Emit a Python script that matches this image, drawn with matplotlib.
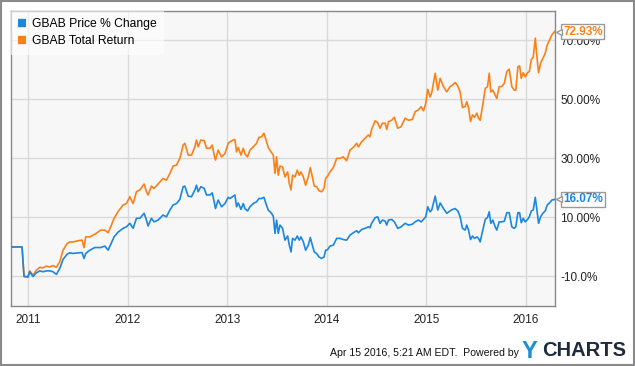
import matplotlib
matplotlib.use('Agg')
import matplotlib.pyplot as plt
from matplotlib.patches import Rectangle
from matplotlib import rcParams
rcParams['font.family'] = ['Liberation Sans', 'DejaVu Sans']

# dates as decimal years, values in %
dates = [
    2010.826, 2010.937, 2010.957, 2010.997, 2011.014, 2011.047, 2011.080, 2011.115, 2011.148, 2011.181,
    2011.215, 2011.248, 2011.282, 2011.316, 2011.349, 2011.392, 2011.416, 2011.450, 2011.500, 2011.540,
    2011.560, 2011.577, 2011.618, 2011.668, 2011.728, 2011.769, 2011.802, 2011.835, 2011.862, 2011.902,
    2011.953, 2011.986, 2012.020, 2012.053, 2012.087, 2012.121, 2012.164, 2012.187, 2012.204, 2012.237,
    2012.264, 2012.304, 2012.354, 2012.388, 2012.423, 2012.455, 2012.489, 2012.523, 2012.556, 2012.573,
    2012.607, 2012.640, 2012.674, 2012.690, 2012.707, 2012.734, 2012.768, 2012.791, 2012.825, 2012.848,
    2012.868, 2012.881, 2012.908, 2012.942, 2012.976, 2013.009, 2013.026, 2013.059, 2013.076, 2013.093,
    2013.110, 2013.137, 2013.160, 2013.177, 2013.203, 2013.227, 2013.261, 2013.294, 2013.318, 2013.344,
    2013.368, 2013.388, 2013.411, 2013.439, 2013.462, 2013.479, 2013.495, 2013.512, 2013.529, 2013.555,
    2013.579, 2013.606, 2013.623, 2013.640, 2013.656, 2013.680, 2013.703, 2013.723, 2013.740, 2013.764,
    2013.787, 2013.814, 2013.834, 2013.854, 2013.874, 2013.897, 2013.922, 2013.948, 2013.972, 2013.988,
    2014.008, 2014.032, 2014.065, 2014.099, 2014.133, 2014.166, 2014.199, 2014.233, 2014.266, 2014.300,
    2014.317, 2014.350, 2014.384, 2014.417, 2014.434, 2014.450, 2014.485, 2014.511, 2014.535, 2014.558,
    2014.585, 2014.602, 2014.619, 2014.652, 2014.679, 2014.712, 2014.746, 2014.787, 2014.820, 2014.860,
    2014.887, 2014.920, 2014.948, 2014.971, 2014.994, 2015.014, 2015.038, 2015.054, 2015.089, 2015.115,
    2015.139, 2015.172, 2015.205, 2015.239, 2015.263, 2015.290, 2015.316, 2015.340, 2015.363, 2015.390,
    2015.406, 2015.424, 2015.444, 2015.464, 2015.484, 2015.507, 2015.524, 2015.541, 2015.567, 2015.592,
    2015.615, 2015.632, 2015.648, 2015.668, 2015.692, 2015.708, 2015.732, 2015.759, 2015.783, 2015.809,
    2015.833, 2015.859, 2015.883, 2015.899, 2015.920, 2015.937, 2015.954, 2015.974, 2015.994, 2016.017,
    2016.035, 2016.055, 2016.074, 2016.095, 2016.111, 2016.128, 2016.148, 2016.171, 2016.195, 2016.215,
    2016.238, 2016.262, 2016.289,
]

price_change = [
    0, 0, -10.0, -10.2, -8.4, -10.0, -8.8, -8.1, -8.4, -8.1,
    -8.1, -8.4, -9.3, -7.3, -4.2, -2.4, -2.0, -2.2, -2.0, -1.9,
    -3.9, -2.2, -1.1, -0.2, -0.2, 0.3, -1.1, 1.4, 3.4, 5.0,
    6.3, 6.8, 8.0, 6.3, 9.7, 9.7, 11.4, 9.1, 7.1, 9.7,
    8.5, 9.1, 10.8, 10.2, 12.5, 14.2, 14.7, 16.1, 20.4, 20.6,
    17.2, 17.0, 19.3, 20.9, 18.7, 20.4, 19.8, 17.6, 17.6, 18.3,
    15.3, 13.0, 15.9, 13.6, 14.7, 16.8, 16.4, 17.2, 17.6, 13.6,
    14.9, 12.7, 14.7, 13.0, 12.2, 13.6, 14.7, 15.3, 16.4, 16.4,
    16.8, 14.7, 12.5, 11.6, 10.4, 4.6, 9.1, 4.6, 7.4, 6.3,
    2.3, 3.7, 0.6, -1.7, 2.9, 2.3, 3.7, 2.3, 3.4, 1.7,
    -1.1, 0.6, 3.2, 0.6, -1.7, -2.2, -3.4, -3.9, -3.4, -1.1,
    -0.9, 0.3, 0.6, 2.9, 2.9, 2.5, 2.3, 4.0, 4.8, 5.5,
    4.8, 5.9, 6.3, 6.8, 6.5, 8.0, 9.9, 10.2, 8.0, 9.1,
    8.8, 7.4, 9.1, 9.3, 8.5, 6.3, 6.8, 8.0, 7.4, 7.7,
    8.5, 9.1, 8.5, 9.3, 10.2, 13.6, 11.9, 12.5, 17.2, 12.5,
    14.9, 13.0, 11.4, 12.2, 12.7, 13.0, 12.2, 10.2, 6.3, 5.7,
    7.4, 5.7, 2.5, 3.7, 2.9, 3.4, 2.9, 1.7, 5.7, 9.3,
    10.0, 11.9, 8.0, 9.1, 6.8, 5.7, 8.5, 8.5, 8.7, 11.6,
    11.6, 6.8, 6.3, 6.8, 11.6, 11.6, 8.2, 9.7, 8.5, 9.3,
    10.2, 12.2, 12.5, 16.8, 12.5, 8.0, 10.2, 11.4, 12.2, 14.2,
    14.9, 15.9, 16.07,
]

total_return = [
    0, 0, -10.0, -10.0, -8.1, -9.6, -7.9, -6.9, -7.1, -6.5,
    -6.8, -6.3, -6.9, -5.0, -1.1, 1.2, 1.7, 1.7, 2.1, 2.3,
    -0.2, 3.4, 3.4, 4.3, 5.7, 5.7, 4.8, 7.4, 9.7, 12.0,
    14.2, 14.7, 17.0, 14.7, 18.7, 19.3, 21.3, 18.7, 17.6, 20.6,
    19.8, 21.3, 23.2, 22.6, 24.9, 27.4, 27.7, 30.0, 34.5, 35.1,
    31.1, 31.1, 33.9, 36.2, 33.9, 36.2, 36.0, 33.4, 33.4, 34.5,
    31.1, 29.4, 32.8, 30.5, 31.6, 35.1, 35.6, 36.2, 36.4, 32.2,
    33.7, 31.1, 33.4, 31.5, 30.5, 32.8, 33.9, 35.1, 37.1, 37.3,
    38.5, 36.4, 33.7, 32.2, 31.1, 24.9, 30.5, 24.3, 27.4, 27.1,
    23.7, 25.4, 21.5, 19.3, 24.3, 23.7, 26.0, 24.3, 25.4, 23.7,
    20.9, 23.7, 26.9, 23.7, 20.6, 20.4, 19.0, 18.7, 19.8, 23.2,
    24.0, 25.4, 26.9, 30.0, 30.0, 30.5, 29.2, 32.8, 33.7, 35.1,
    33.9, 35.6, 36.8, 37.9, 37.3, 39.8, 42.7, 42.1, 40.2, 41.9,
    41.9, 39.8, 42.4, 42.9, 43.9, 40.2, 40.7, 43.6, 42.9, 43.2,
    45.8, 46.4, 47.5, 46.1, 48.6, 53.4, 50.8, 52.2, 58.8, 53.1,
    57.1, 54.3, 52.5, 54.3, 54.8, 55.7, 54.5, 52.5, 47.2, 47.5,
    49.2, 47.2, 42.5, 44.7, 43.9, 45.3, 43.6, 42.9, 48.1, 53.7,
    54.3, 58.8, 52.5, 53.1, 51.4, 50.3, 54.3, 54.3, 55.4, 59.4,
    60.2, 54.3, 53.1, 53.1, 61.0, 61.3, 57.1, 59.0, 57.6, 59.0,
    59.4, 63.5, 64.2, 70.7, 64.4, 59.0, 62.2, 63.9, 65.6, 68.4,
    70.1, 71.8, 72.93,
]

years = [2011, 2012, 2013, 2014, 2015, 2016]
ytick_vals = [-10, 10, 30, 50, 70]
ytick_labels = ['-10.0%', '10.00%', '30.00%', '50.00%', '70.00%']

blue = '#1a87e0'
orange = '#fb8116'

fig = plt.figure(figsize=(6.35, 3.66), dpi=100)
ax = fig.add_axes([10.7 / 635, 1 - 306 / 366, 544 / 635, 295.3 / 366])
ax.set_facecolor('#f7f7f7')

ax.plot(dates, price_change, color=blue, lw=1.2, label='GBAB Price % Change', zorder=3)
ax.plot(dates, total_return, color=orange, lw=1.2, label='GBAB Total Return', zorder=2)

ax.set_xlim(2010.823, 2016.29)
ax.set_ylim(-20, 80)
ax.set_xticks(years)
ax.set_xticklabels([str(y) for y in years])
ax.set_yticks(ytick_vals)
ax.set_yticklabels(ytick_labels)
ax.yaxis.tick_right()
ax.tick_params(length=0, labelsize=8.5, colors='#222222')
ax.tick_params(axis='y', pad=4)
ax.tick_params(axis='x', pad=6)
ax.grid(True, color='#d9d9d9', lw=1)
ax.set_axisbelow(True)
for s in ax.spines.values():
    s.set_color('#888888')
    s.set_linewidth(1)

leg = ax.legend(loc='upper left', bbox_to_anchor=(0, 1), fontsize=8.7, frameon=True,
                fancybox=False, handlelength=0.7, handleheight=0.7, handletextpad=0.5,
                borderpad=0.6, labelspacing=0.45, borderaxespad=0)
leg.get_frame().set_facecolor('white')
leg.get_frame().set_alpha(0.6)
leg.get_frame().set_linewidth(0)
for h in leg.legend_handles:
    h.set_linewidth(6)
    h.set_solid_capstyle('butt')

# end value tags (they sit over the right axis labels, as in the original)
for val, col, txt in [(total_return[-1], orange, '72.93%'), (price_change[-1], blue, '16.07%')]:
    ax.annotate(txt, xy=(1, val), xycoords=('axes fraction', 'data'),
                xytext=(6, 0), textcoords='offset points', va='center', ha='left',
                fontsize=8.5, fontweight='bold', color=col, annotation_clip=False, zorder=10,
                bbox=dict(boxstyle='square,pad=0.15', fc='white', ec='#999999', lw=1))
    ax.plot([1.008], [val], marker='<', ms=5, mfc='white', mec='#999999', mew=1,
            transform=ax.get_yaxis_transform(), clip_on=False, zorder=11)

fig.text(519 / 635, 1 - 353 / 366, 'Apr 15 2016, 5:21 AM EDT.  Powered by', ha='right', va='center',
         fontsize=7.6, color='#111111')
fig.text(522 / 635, 1 - 351 / 366, 'Y', ha='left', va='center', fontsize=17, fontweight='bold',
         color='#1a8fd8')
fig.text(542 / 635, 1 - 351 / 366, 'CHARTS', ha='left', va='center', fontsize=14.5, fontweight='bold',
         color='#1e2b3a')

fig.patches.append(Rectangle((0.001, 0.002), 0.997, 0.996, transform=fig.transFigure, fill=False,
                             ec='#8a8a8a', lw=1.5))

fig.savefig('out.png', dpi=100)
